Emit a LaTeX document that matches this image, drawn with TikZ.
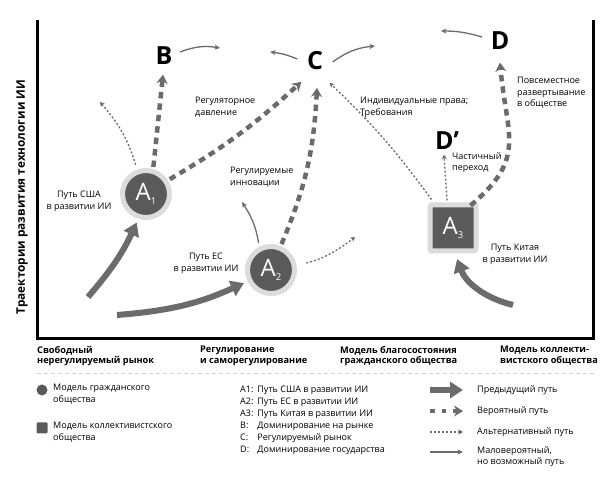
\documentclass[tikz,border=0pt]{standalone}
\usepackage{fontspec}
\setmainfont{Open Sans}
\usetikzlibrary{arrows.meta,calc}
\definecolor{dk}{HTML}{5A5A5A}
\definecolor{lt}{HTML}{DCDCDC}
\definecolor{ar}{HTML}{6B6B6B}
\definecolor{sepc}{HTML}{D0D0D0}
\newcommand\Alab[1]{\fontsize{24}{24}\selectfont A\raisebox{-4.5pt}{\fontsize{9.5}{9.5}\selectfont #1}}
\begin{document}
\begin{tikzpicture}[x=1pt,y=1pt,
  txt/.style={font=\fontsize{9}{11.5}\selectfont, inner sep=0pt, align=left},
  ctxt/.style={txt, align=center},
  btxt/.style={font=\bfseries\fontsize{9.2}{10.5}\selectfont, inner sep=0pt, align=left, anchor=north west},
  letter/.style={font=\bfseries\fontsize{25}{25}\selectfont, inner sep=0.5pt},
  circnode/.style={circle, fill=dk, draw=lt, line width=5pt, minimum size=47pt, inner sep=0pt, text=white},
  sqnode/.style={rectangle, rounded corners=1.5pt, fill=dk, draw=lt, line width=5pt, minimum size=46pt, inner sep=0pt, text=white},
  prevpath/.style={draw=ar, line width=6pt, -{Triangle[length=13pt,width=16pt]}},
  probpath/.style={draw=ar, line width=4.5pt, dash pattern=on 6.5pt off 5pt, -{Stealth[length=9pt,width=11pt,inset=3pt]}},
  altpath/.style={draw=ar, line width=1.3pt, dash pattern=on 2pt off 2pt, -{Stealth[length=4.5pt,width=5pt,inset=1.2pt]}},
  unlpath/.style={draw=ar, line width=1.3pt, -{Stealth[length=5.5pt,width=5pt,inset=1.5pt]}},
]
\useasboundingbox (0,0) rectangle (611,477);

% frame
\draw[line width=3pt] (37,457) -- (37,138) -- (593,138) -- (593,457);
\node[font=\bfseries\fontsize{11.8}{13}\selectfont, rotate=90] (ylab) at (22,280) {Траектории развития технологии ИИ};

% main nodes
\node[circnode] (A1) at (146,283) {\Alab{1}};
\node[circnode] (A2) at (271,207) {\Alab{2}};
\node[sqnode] (A3) at (453,249) {\Alab{3}};
\node[letter] (B) at (164,421) {B};
\node[letter] (C) at (315,416) {C};
\node[letter] (D) at (500,436) {D};
\node[letter] (Dp) at (447,336) {D’};

% free ends
\coordinate (p1s) at (88,180);
\coordinate (p2s) at (117,162);
\coordinate (p3s) at (513,172);
\coordinate (t1e) at (100,375);
\coordinate (t2e) at (355,240);
\coordinate (u1e) at (220,429);
\coordinate (u2e) at (270,425);
\coordinate (u3e) at (375,431);
\coordinate (u4e) at (441,446);
\coordinate (u5e) at (242,275);

% previous paths
\draw[prevpath, shorten >=4pt] (p1s) to[bend right=8] (A1.253);
\draw[prevpath, shorten >=4pt] (p2s) to[bend right=10] (A2.206);
\draw[prevpath, shorten >=6pt] (p3s) to[bend left=28] ([xshift=2pt]A3.south);

% probable paths
\draw[probpath, shorten <=2pt] (A1.74) -- ([xshift=-1pt,yshift=-9pt]B.south);
\draw[probpath, shorten <=2pt] (A1.32) to[bend right=6] ([xshift=-5pt,yshift=-11pt]C.south west);
\draw[probpath, shorten <=2pt] (A2.68) to[bend right=10] ([xshift=2pt,yshift=-17pt]C.south);
\draw[probpath] ([xshift=-8pt,yshift=-3pt]A3.north east) to[out=40,in=-85,looseness=1.3] ([yshift=-12pt]D.south);

% alternative paths
\draw[altpath, shorten <=5pt] (A1.110) to[bend right=12] (t1e);
\draw[altpath, shorten <=10pt] (A2.10) to[bend right=12] (t2e);
\draw[altpath] ([xshift=4pt,yshift=3pt]A3.north west) to[bend right=5] ([xshift=6pt,yshift=-12pt]C.south east);
\draw[altpath] ([xshift=-6pt,yshift=2pt]A3.north) -- ([xshift=-3pt,yshift=-4pt]Dp.south);

% unlikely paths
\draw[unlpath] ([xshift=7pt,yshift=4pt]B.east) to[bend left=15] (u1e);
\draw[unlpath] ([xshift=-9pt,yshift=2pt]C.west) to[bend right=8] (u2e);
\draw[unlpath] ([xshift=9pt,yshift=-1pt]C.east) to[bend left=15] (u3e);
\draw[unlpath] ([xshift=-8pt,yshift=4pt]D.west) to[bend right=8] (u4e);
\draw[unlpath, shorten <=4pt] (A2.117) to[bend right=12] (u5e);

% labels in diagram
\node[txt, anchor=north west] (l1) at (195,380) {Регуляторное\\давление};
\node[txt, anchor=north west] (l2) at (230,310) {Регулируемые\\инновации};
\node[ctxt, anchor=north] (l3) at (79,286) {Путь США\\в развитии ИИ};
\node[ctxt, anchor=north] (l4) at (206,224) {Путь ЕС\\в развитии ИИ};
\node[txt, anchor=north west] (l5) at (360,380) {Индивидуальные права;\\Требования};
\node[txt, anchor=north west] (l6) at (517,400) {Повсеместное\\развертывание\\в обществе};
\node[txt, anchor=north west] (l7) at (452,325) {Частичный\\переход};
\node[ctxt, anchor=north] (l8) at (515,233) {Путь Китая\\в развитии ИИ};

% axis labels
\node[btxt] (x1) at (37,131) {Свободный\\нерегулируемый рынок};
\node[btxt] (x2) at (200,131) {Регулирование\\и саморегулирование};
\node[btxt] (x3) at (340,131) {Модель благосостояния\\гражданского общества};
\node[btxt] (x4) at (500,131) {Модель коллекти-\\вистского общества};
\draw[sepc, line width=0.8pt, dash pattern=on 4pt off 3pt] (37,104) -- (597,104);

% left legend
\fill[dk] (42,87) circle (5.5pt);
\node[txt, anchor=north west] (g1) at (53,93) {Модель гражданского\\общества};
\fill[dk, rounded corners=1pt] (36.5,43.5) rectangle (47.5,54.5);
\node[txt, anchor=north west] (g2) at (53,55) {Модель коллективистского\\общества};

% middle legend
\node[anchor=north west, inner sep=0pt, font=\fontsize{9}{12}\selectfont] (g3) at (240,93) {\begin{tabular}{@{}l@{\hspace{4pt}}l@{}}
A1: & Путь США в развитии ИИ\\
A2: & Путь ЕС в развитии ИИ\\
A3: & Путь Китая в развитии ИИ\\
B: & Доминирование на рынке\\
C: & Регулируемый рынок\\
D: & Доминирование государства
\end{tabular}};

% right legend
\coordinate (k1a) at (430,87); \coordinate (k1b) at (463,87);
\coordinate (k2a) at (430,66); \coordinate (k2b) at (463,66);
\coordinate (k3a) at (430,45); \coordinate (k3b) at (463,45);
\coordinate (k4a) at (430,25); \coordinate (k4b) at (463,25);
\draw[prevpath] (k1a) -- (k1b);
\draw[probpath, dash pattern=on 4.5pt off 7pt] (k2a) -- (k2b);
\draw[altpath] (k3a) -- (k3b);
\draw[unlpath] (k4a) -- (k4b);
\node[txt, anchor=west] (r1) at (477,87) {Предыдущий путь};
\node[txt, anchor=west] (r2) at (477,66) {Вероятный путь};
\node[txt, anchor=west] (r3) at (477,45) {Альтернативный путь};
\node[txt, anchor=north west] (r4) at (477,31) {Маловероятный,\\но возможный путь};
\end{tikzpicture}
\end{document}
